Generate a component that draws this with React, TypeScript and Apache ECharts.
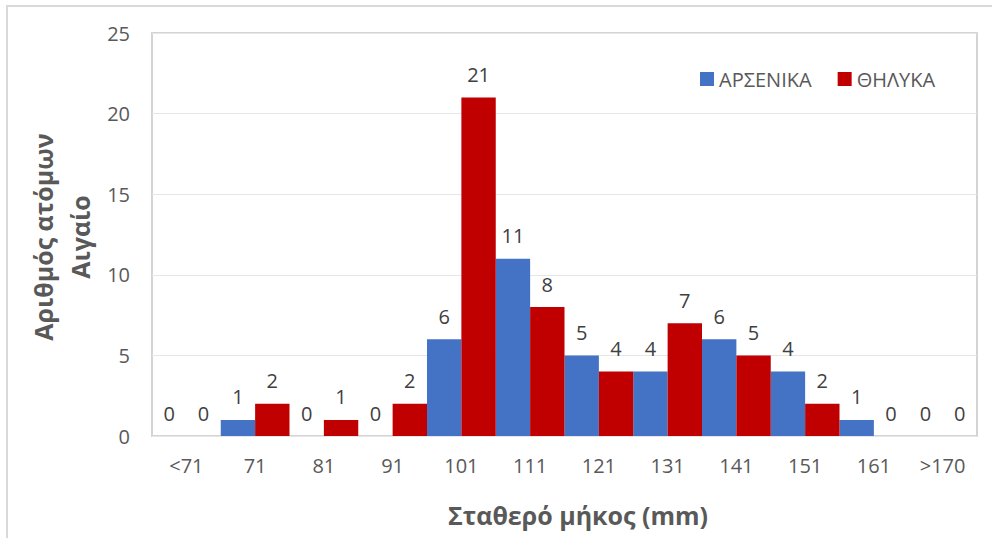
import React, { useEffect, useRef } from "react";
import * as echarts from "echarts";

const categories = ["<71", "71", "81", "91", "101", "111", "121", "131", "141", "151", "161", ">170"];
const males = [0, 1, 0, 0, 6, 11, 5, 4, 6, 4, 1, 0];
const females = [0, 2, 1, 2, 21, 8, 4, 7, 5, 2, 0, 0];
const yTicks = { min: 0, max: 25, interval: 5 };
const seriesNames = ["ΑΡΣΕΝΙΚΑ", "ΘΗΛΥΚΑ"];
const yTitle = ["Αριθμός ατόμων", "Αιγαίο"];
const xTitle = "Σταθερό μήκος (mm)";

const FONT = "'Open Sans', 'Noto Sans', sans-serif";

export default function App() {
  const ref = useRef<HTMLDivElement>(null);
  useEffect(() => {
    document.body.style.margin = "0";
    const chart = echarts.init(ref.current!, null, { renderer: "svg" });
    const labelStyle = {
      show: true,
      position: "top" as const,
      distance: 13,
      fontSize: 20,
      color: "#404040",
      fontFamily: FONT,
    };
    chart.setOption({
      animation: false,
      backgroundColor: "#ffffff",
      textStyle: { fontFamily: FONT },
      grid: {
        left: 152,
        top: 33,
        right: 15,
        bottom: 102,
        show: true,
        borderColor: "#d4d4d4",
        borderWidth: 2,
        containLabel: false,
      },
      legend: {
        left: 695,
        top: 64,
        itemWidth: 14,
        itemHeight: 14,
        itemGap: 26,
        icon: "rect",
        textStyle: { fontSize: 20, color: "#595959", fontFamily: FONT },
        data: seriesNames,
      },
      xAxis: {
        type: "category",
        data: categories,
        axisLine: { show: false },
        axisTick: { show: false },
        axisLabel: { fontSize: 20, color: "#595959", margin: 19, fontFamily: FONT },
      },
      yAxis: {
        type: "value",
        min: yTicks.min,
        max: yTicks.max,
        interval: yTicks.interval,
        axisLine: { show: false },
        axisTick: { show: false },
        axisLabel: { fontSize: 20, color: "#595959", margin: 22, fontFamily: FONT },
        splitLine: { lineStyle: { color: "#e6e6e6", width: 1 } },
      },
      series: [
        {
          name: seriesNames[0],
          type: "bar",
          data: males,
          barGap: "0%",
          barCategoryGap: "0%",
          itemStyle: { color: "#4472c4" },
          label: labelStyle,
        },
        {
          name: seriesNames[1],
          type: "bar",
          data: females,
          barGap: "0%",
          barCategoryGap: "0%",
          itemStyle: { color: "#c00000" },
          label: labelStyle,
        },
      ],
      graphic: [
        {
          type: "rect",
          shape: { x: 7, y: 6, width: 1100, height: 700 },
          style: { fill: "none", stroke: "#d9d9d9", lineWidth: 2 },
          silent: true,
        },
        {
          type: "text",
          x: 43,
          y: 237,
          rotation: Math.PI / 2,
          style: {
            text: yTitle[0],
            fontSize: 25,
            fontWeight: "bold",
            fill: "#595959",
            fontFamily: FONT,
            align: "center",
            verticalAlign: "middle",
          },
        },
        {
          type: "text",
          x: 80,
          y: 237,
          rotation: Math.PI / 2,
          style: {
            text: yTitle[1],
            fontSize: 25,
            fontWeight: "bold",
            fill: "#595959",
            fontFamily: FONT,
            align: "center",
            verticalAlign: "middle",
          },
        },
        {
          type: "text",
          x: 578,
          y: 515,
          style: {
            text: xTitle,
            fontSize: 25,
            fontWeight: "bold",
            fill: "#595959",
            fontFamily: FONT,
            align: "center",
            verticalAlign: "middle",
          },
        },
      ],
    });
    return () => chart.dispose();
  }, []);
  return <div ref={ref} style={{ width: 992, height: 538 }} />;
}
